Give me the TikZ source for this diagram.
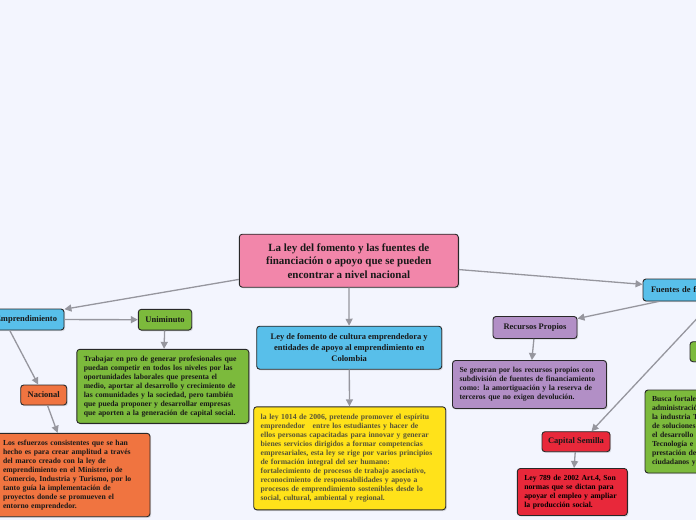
\documentclass[tikz,border=0pt]{standalone}
\usepackage{fontspec}
\setmainfont{Liberation Serif}
\usetikzlibrary{arrows.meta,shadows}
\definecolor{bgc}{RGB}{243,245,254}
\definecolor{cpink}{RGB}{242,134,170}
\definecolor{cblue}{RGB}{88,191,234}
\definecolor{cgreen}{RGB}{124,186,60}
\definecolor{corange}{RGB}{240,116,64}
\definecolor{cyellow}{RGB}{255,226,26}
\definecolor{cpurple}{RGB}{178,143,198}
\definecolor{cred}{RGB}{232,40,58}
\definecolor{bordc}{RGB}{40,40,40}
\definecolor{linec}{RGB}{150,150,158}
\definecolor{txtc}{RGB}{25,25,25}
\definecolor{ytxt}{RGB}{88,84,54}
\tikzset{
  base/.style={draw=bordc, line width=0.9pt, rounded corners=3pt, text=txtc,
    drop shadow={shadow xshift=1.2pt, shadow yshift=-1.2pt, opacity=0.25}},
  title/.style={base, font=\fontsize{8.5}{10.8}\selectfont\bfseries, align=center, inner sep=0pt},
  desc/.style={base, font=\fontsize{7.7}{9}\selectfont\bfseries, align=left, inner xsep=7pt, inner ysep=0pt},
  conn/.style={draw=linec, line width=1.3pt, -{Triangle[length=7pt,width=7pt]}},
}
\begin{document}
\begin{tikzpicture}[x=1pt,y=-1pt]
\useasboundingbox (0,0) rectangle (696,520);
\fill[bgc] (0,0) rectangle (696,520);
\clip (0,0) rectangle (696,520);

% central
\node[base, fill=cpink, font=\fontsize{11}{13.5}\selectfont\bfseries, align=center,
  minimum width=219pt, minimum height=53pt, inner sep=0pt] (central) at (348.8,260.7)
  {La ley del fomento y las fuentes de\\ financiación o apoyo que se pueden\\ encontrar a nivel nacional};

% left branch
\node[title, fill=cblue, text width=106pt, align=right, inner xsep=7pt, minimum height=21pt] (emp) at (4,319.5) {Emprendimiento};
\node[title, fill=cgreen, minimum width=53.4pt, minimum height=20.7pt] (uni) at (165,319.7) {Uniminuto};
\node[desc, fill=cgreen, text width=158pt, minimum height=74pt] (gbox) at (162.8,386.3)
  {Trabajar en pro de generar profesionales que\\ puedan competir en todos los niveles por las\\ oportunidades laborales que presenta el\\ medio, aportar al desarrollo y crecimiento de\\ las comunidades y la sociedad, pero también\\ que pueda proponer y desarrollar empresas\\ que aporten a la generación de capital social.};
\node[title, fill=corange, minimum width=46pt, minimum height=20pt] (nac) at (43.7,395) {Nacional};
\node[desc, fill=corange, text width=140pt, minimum height=83.4pt] (obox) at (73,475)
  {Los esfuerzos consistentes que se han\\ hecho es para crear amplitud a través\\ del marco creado con la ley de\\ emprendimiento en el Ministerio de\\ Comercio, Industria y Turismo, por lo\\ tanto guía la implementación de\\ proyectos donde se promueven el\\ entorno emprendedor.};

% middle branch
\node[title, fill=cblue, minimum width=185pt, minimum height=43pt] (ley) at (349.2,347.7)
  {Ley de fomento de cultura emprendedora y\\ entidades de apoyo al emprendimiento en\\ Colombia};
\node[desc, fill=cyellow, text=ytxt, text width=178pt, minimum height=103pt] (ybox) at (349.7,458.3)
  {la ley 1014 de 2006, pretende promover el espíritu\\ emprendedor \ \ entre los estudiantes y hacer de\\ ellos personas capacitadas para innovar y generar\\ bienes servicios dirigidos a formar competencias\\ empresariales, esta ley se rige por varios principios\\ de formación integral del ser humano:\\ fortalecimiento de procesos de trabajo asociativo,\\ reconocimiento de responsabilidades y apoyo a\\ procesos de emprendimiento sostenibles desde lo\\ social, cultural, ambiental y regional.};

% right branch
\node[title, fill=cblue, text width=124pt, align=left, inner xsep=8pt, minimum height=22pt] (fuentes) at (713,290) {Fuentes de financiación};
\node[title, fill=cpurple, minimum width=84pt, minimum height=22pt] (rec) at (535,327.5) {Recursos Propios};
\node[desc, fill=cpurple, text width=140pt, minimum height=48pt] (pbox) at (529.5,384.5)
  {Se generan por los recursos propios con\\ subdivisión de fuentes de financiamiento\\ como: la amortiguación y la reserva de\\ terceros que no exigen devolución.};
\node[title, fill=cred, minimum width=68pt, minimum height=20pt] (cap) at (576,441.7) {Capital Semilla};
\node[desc, fill=cred, text=black, text width=96pt, minimum height=47pt] (rbox) at (572.3,492)
  {Ley 789 de 2002 Art.4, Son\\ normas que se dictan para\\ apoyar el empleo y ampliar\\ la producción social.};
\node[title, fill=cgreen, minimum width=60pt, minimum height=20pt] (sg) at (720,351.7) {};
\node[desc, fill=cgreen, text width=136pt, minimum height=83pt] (gr) at (720,431.5)
  {Busca fortalecer la\\ administración de\\ la industria TI\\ de soluciones para\\ el desarrollo de\\ Tecnología e\\ prestación de\\ ciudadanos y};

% connectors
\draw[conn] (central) -- (emp);
\draw[conn] (central) -- (fuentes);
\draw[conn] (central) -- (ley);
\draw[conn] (emp) -- (uni);
\draw[conn] (uni) -- (gbox);
\draw[conn] (emp) -- (nac);
\draw[conn] (nac) -- (obox);
\draw[conn] (ley) -- (ybox);
\draw[conn] (fuentes) -- (rec);
\draw[conn] (rec) -- (pbox);
\draw[conn] (fuentes.south) -- ([xshift=-19pt]cap.north east);
\draw[conn] (cap) -- (rbox);
\end{tikzpicture}
\end{document}
